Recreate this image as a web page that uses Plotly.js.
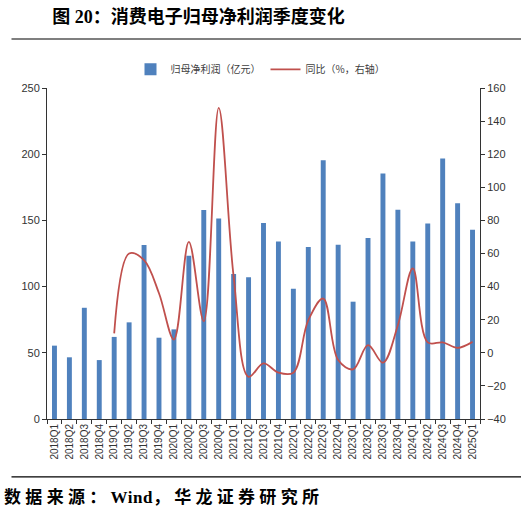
<!DOCTYPE html>
<html>
<head>
<meta charset="utf-8">
<script src="https://cdn.plot.ly/plotly-3.0.1.min.js"></script>
<style>
html,body{margin:0;padding:0;background:#fff;}
#chart{width:521px;height:517px;}
#chart .annotation-text{letter-spacing:4.3px;}
</style>
</head>
<body>
<div id="chart"></div>
<script>
const quarters = ["2018Q1","2018Q2","2018Q3","2018Q4","2019Q1","2019Q2","2019Q3","2019Q4","2020Q1","2020Q2","2020Q3","2020Q4","2021Q1","2021Q2","2021Q3","2021Q4","2022Q1","2022Q2","2022Q3","2022Q4","2023Q1","2023Q2","2023Q3","2023Q4","2024Q1","2024Q2","2024Q3","2024Q4","2025Q1"];
const netProfit = [55.4,46.6,84,44.5,62,73,131.4,61.4,67.7,123.3,157.8,151.5,109.5,107,148,134,98.4,130,195.5,131.6,88.6,136.7,185.5,158,134,147.7,196.8,163,143];
const yoy = [null,null,null,null,11.7,60,56,36,8,67,19,148,46,-14.5,-6.4,-12,-12,19.7,32.8,-4.4,-10,4.6,-6,16.7,51,6.3,6.3,3,6.6];
const barName = "归母净利润（亿元）";
const lineName = "同比（%，右轴）";
const titleText = "图 20：消费电子归母净利润季度变化";
const sourcePre = "数据来源：";
const sourceWind = "Wind";
const sourcePost = "，华龙证券研究所";

const cjk = "'Liberation Serif', 'Noto Sans CJK SC', serif";
const tickFont = {family: "'Liberation Sans', Arial, sans-serif", size: 11, color: "#333"};

const traces = [
  {type: "bar", name: barName, x: quarters, y: netProfit, marker: {color: "#4f81bd"}, width: 0.33, yaxis: "y"},
  {type: "scatter", mode: "lines", name: lineName, x: quarters, y: yoy, yaxis: "y2",
   line: {color: "#c0504d", width: 1.8, shape: "spline", smoothing: 1}, connectgaps: false}
];

const layout = {
  width: 521, height: 517,
  margin: {l: 47, r: 41, t: 88, b: 98},
  paper_bgcolor: "#fff", plot_bgcolor: "#fff",
  showlegend: true,
  title: {text: "<b>" + titleText + "</b>", x: 0.012, xanchor: "left", xref: "paper", y: 0.967, yanchor: "middle", yref: "container",
          font: {family: cjk, size: 18, color: "#000"}},
  legend: {orientation: "h", x: 0.5, xanchor: "center", xref: "container", y: 0.866, yanchor: "middle", yref: "container",
           font: {family: "'Noto Sans CJK SC', sans-serif", size: 10, color: "#404040"}, itemwidth: 30, traceorder: "normal"},
  xaxis: {type: "category", tickangle: -90, tickfont: {family: "'Liberation Sans', Arial, sans-serif", size: 10, color: "#333"},
          showline: true, linecolor: "#333", linewidth: 1, ticks: "outside", ticklen: 4, tickcolor: "#333",
          tickson: "boundaries", showgrid: false, zeroline: false},
  yaxis: {range: [0, 250], dtick: 50, showline: true, linecolor: "#333", linewidth: 1, ticks: "outside", ticklen: 4,
          tickcolor: "#333", tickfont: tickFont, showgrid: false, zeroline: false},
  yaxis2: {range: [-40, 160], dtick: 20, overlaying: "y", side: "right", showline: true, linecolor: "#333", linewidth: 1,
           ticks: "outside", ticklen: 4, tickcolor: "#333", tickfont: tickFont, showgrid: false, zeroline: false},
  bargap: 0.67,
  shapes: [
    {type: "line", xref: "paper", yref: "paper", x0: -0.082, x1: 1.11, y0: 1.148, y1: 1.148, line: {color: "#000", width: 1.2}},
    {type: "line", xref: "paper", yref: "paper", x0: -0.082, x1: 1.11, y0: -0.175, y1: -0.175, line: {color: "#000", width: 1.2}}
  ],
  annotations: [
    {text: "<b>" + sourcePre + "<span style=\"letter-spacing:0.5px\">" + sourceWind + "</span>" + sourcePost + "</b>", xref: "paper", yref: "paper", x: 0.27, xanchor: "center", y: -0.237, yanchor: "middle",
     showarrow: false, font: {family: cjk, size: 17, color: "#000"}}
  ]
};

Plotly.newPlot("chart", traces, layout, {displayModeBar: false, staticPlot: true});
</script>
</body>
</html>
